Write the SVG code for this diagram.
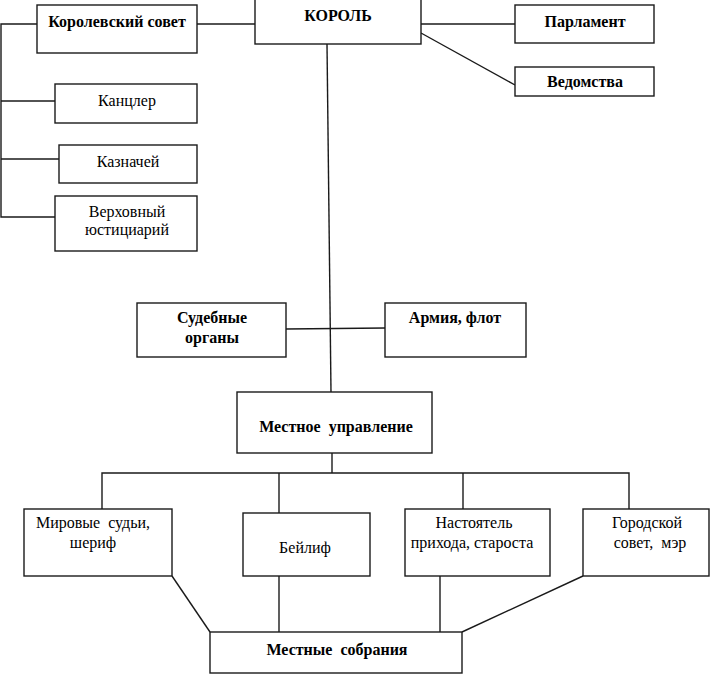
<svg xmlns="http://www.w3.org/2000/svg" width="710" height="675" viewBox="0 0 710 675">
<style>
rect{fill:#fff;stroke:#1a1a1a;stroke-width:1.4}
.c line,.c polyline{stroke:#1a1a1a;stroke-width:1.4;fill:none}
text{font-family:"Liberation Serif","Times New Roman",serif;fill:#000;text-anchor:middle;white-space:pre}
.b{font-weight:bold;font-size:16px}
.r{font-size:16px}
</style>
<rect width="710" height="675" style="fill:#fff;stroke:none"/>
<g class="c" id="connectors">
<line x1="197" y1="24" x2="255" y2="24"/>
<line x1="421" y1="24" x2="515" y2="24"/>
<line x1="421" y1="33" x2="515" y2="85"/>
<polyline points="37,24 1,24 1,217 55,217"/>
<line x1="1" y1="101" x2="55" y2="101"/>
<line x1="1" y1="159" x2="59" y2="159"/>
<line x1="327" y1="44" x2="331" y2="392"/>
<line x1="286" y1="329" x2="385" y2="328"/>
<line x1="332" y1="453" x2="332" y2="473"/>
<polyline points="102,509 102,473 629,473 629,509"/>
<line x1="279" y1="473" x2="279" y2="513"/>
<line x1="463" y1="473" x2="463" y2="509"/>
<line x1="172" y1="576" x2="210" y2="632"/>
<line x1="279" y1="576" x2="279" y2="632"/>
<line x1="440" y1="576" x2="440" y2="632"/>
<line x1="583" y1="576" x2="462" y2="632"/>
</g>
<g id="korol"><rect x="255" y="-1" width="166" height="45"/><text class="b" x="338" y="21">КОРОЛЬ</text></g>
<g id="sovet"><rect x="37" y="5" width="160" height="48"/><text class="b" x="117" y="27">Королевский совет</text></g>
<g id="parlament"><rect x="515" y="5" width="139" height="38"/><text class="b" x="585" y="27">Парламент</text></g>
<g id="vedomstva"><rect x="515" y="67" width="139" height="29"/><text class="b" x="585" y="87">Ведомства</text></g>
<g id="kancler"><rect x="55" y="84" width="142" height="39"/><text class="r" x="127" y="106">Канцлер</text></g>
<g id="kaznachey"><rect x="59" y="145" width="138" height="38"/><text class="r" x="128" y="167">Казначей</text></g>
<g id="justiciar"><rect x="55" y="196" width="142" height="55"/><text class="r" x="127" y="217">Верховный</text><text class="r" x="127" y="235">юстициарий</text></g>
<g id="sud"><rect x="137" y="303" width="149" height="54"/><text class="b" x="212" y="323">Судебные</text><text class="b" x="212" y="343">органы</text></g>
<g id="armiya"><rect x="385" y="303" width="141" height="54"/><text class="b" x="455" y="323">Армия, флот</text></g>
<g id="mestnoe"><rect x="237" y="392" width="195" height="61"/><text class="b" x="336" y="432" xml:space="preserve">Местное  управление</text></g>
<g id="mirovye"><rect x="24" y="509" width="148" height="67"/><text class="r" x="93" y="528" xml:space="preserve">Мировые  судьи,</text><text class="r" x="93" y="548">шериф</text></g>
<g id="beylif"><rect x="243" y="513" width="127" height="63"/><text class="r" x="305" y="553">Бейлиф</text></g>
<g id="nastoyatel"><rect x="405" y="509" width="145" height="67"/><text class="r" x="474" y="528">Настоятель</text><text class="r" x="472" y="548">прихода, староста</text></g>
<g id="gorodskoy"><rect x="583" y="509" width="126" height="67"/><text class="r" x="647" y="528">Городской</text><text class="r" x="650" y="548" xml:space="preserve">совет,  мэр</text></g>
<g id="sobraniya"><rect x="210" y="632" width="252" height="41"/><text class="b" x="337" y="655" xml:space="preserve">Местные  собрания</text></g>
</svg>
